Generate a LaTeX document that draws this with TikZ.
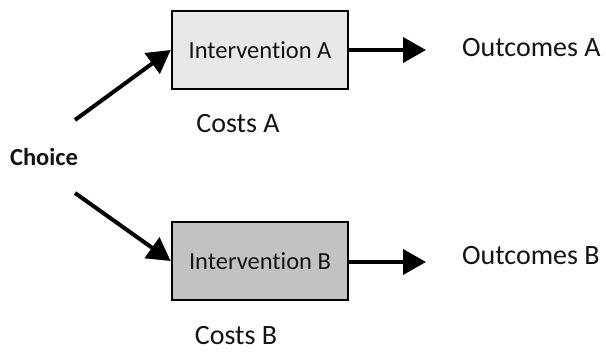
\documentclass[tikz,border=0pt]{standalone}
\usepackage{fontspec}
\setmainfont{Carlito}[Ligatures=CommonOff]
\usetikzlibrary{arrows.meta}
\definecolor{boxA}{HTML}{E8E8E8}
\definecolor{boxB}{HTML}{C2C2C2}
\definecolor{txt}{HTML}{141414}
\tikzset{
  interv/.style={draw=black, line width=2.6pt, minimum width=176pt, minimum height=78pt, inner sep=0pt, font=\fontsize{24.5}{28}\selectfont, text=txt},
  lbl/.style={font=\fontsize{28}{32}\selectfont, text=txt, inner sep=0pt},
  conn/.style={line width=4pt, -{Triangle[length=23pt,width=25pt]}},
}
\begin{document}
\begin{tikzpicture}[x=1pt,y=-1pt]
\useasboundingbox (0,0) rectangle (606,352);
\node[interv, fill=boxA] (ia) at (260,50) {Intervention A};
\node[interv, fill=boxB] (ib) at (260,261) {Intervention B};
\node[lbl, anchor=west] (oa) at (462,48) {Outcomes A};
\node[lbl, anchor=west] (ob) at (462,256) {Outcomes B};
\node[lbl] (ca) at (238,124) {Costs A};
\node[lbl] (cb) at (236,336) {Costs B};
\node[font=\bfseries\fontsize{24.5}{28}\selectfont, text=txt, inner sep=0pt] (ch) at (44,157) {Choice};
\coordinate (s1) at (75,120);
\coordinate (s2) at (75,193);
\coordinate (ea) at (426,50);
\coordinate (eb) at (426,262);
\draw[conn] (s1) -- (ia.west);
\draw[conn] (s2) -- (ib.west);
\draw[conn] (ia.east) -- (ea);
\draw[conn] (ib.east |- eb) -- (eb);
\end{tikzpicture}
\end{document}
